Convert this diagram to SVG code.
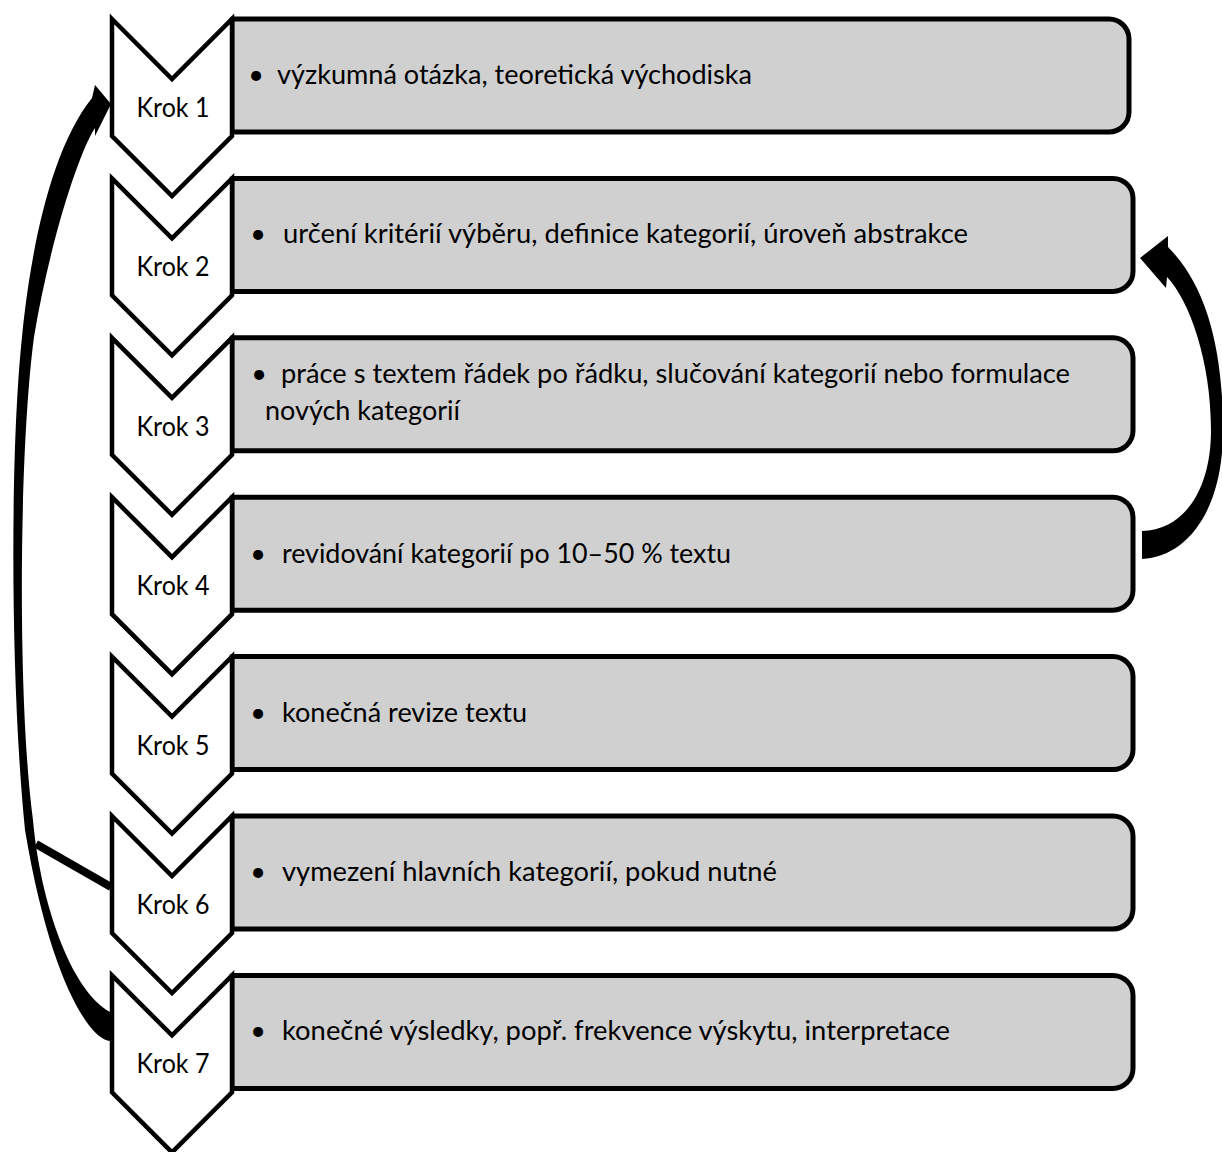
<svg xmlns="http://www.w3.org/2000/svg" width="1222" height="1152" viewBox="0 0 1222 1152">
  <style>
    .box { fill: #d0d0d0; stroke: #000; stroke-width: 5; stroke-linejoin: round; }
    .chev { fill: #fff; stroke: #000; stroke-width: 4.5; stroke-linejoin: miter; }
    .lbl { font-family: Lato, "Liberation Sans", sans-serif; font-size: 27px; fill: #000; }
    .step { text-anchor: middle; }
    .bul { text-anchor: middle; }
    .conn { fill: #000; stroke: none; }
  </style>
  <rect width="1222" height="1152" fill="#fff"/>

  <g id="connectors">
    <path class="conn" d="M110 1041 C90 1040 50 980 25 830 C10 680 10 450 22 337 C30 255 50 150 92 98 L95 85 L111 104 L95 136 L95 128 C80 150 50 240 34 337 C19 450 17 700 33 820 C40 900 70 990 110 1012 Z"/>
    <line x1="36" y1="844" x2="111" y2="887" stroke="#000" stroke-width="8"/>
    <path class="conn" d="M1142 559 C1186 557 1223 512 1223 430 C1223 350 1207 286 1168 247 L1168 236 L1140 258 L1166 288 L1167 277 C1189 300 1211 360 1211 430 C1211 490 1184 530 1142 531 Z"/>
  </g>

  <g id="step1">
    <path class="box" d="M232 19 H1109 A20 20 0 0 1 1129 39 V112 A20 20 0 0 1 1109 132 H232 Z"/>
    <path class="chev" d="M112 19 L172 79 L232 19 L232 136 L172 196 L112 136 Z"/>
    <text class="lbl step" x="173" y="117" textLength="73" lengthAdjust="spacingAndGlyphs">Krok 1</text>
    <text class="lbl bul" x="256" y="84">•</text>
    <text class="lbl" x="277" y="84" textLength="475" lengthAdjust="spacingAndGlyphs">výzkumná otázka, teoretická východiska</text>
  </g>

  <g id="step2">
    <path class="box" d="M232 178.4 H1113 A20 20 0 0 1 1133 198.4 V271.4 A20 20 0 0 1 1113 291.4 H232 Z"/>
    <path class="chev" d="M112 178.4 L172 238.4 L232 178.4 L232 295.4 L172 355.4 L112 295.4 Z"/>
    <text class="lbl step" x="173" y="276.4" textLength="73" lengthAdjust="spacingAndGlyphs">Krok 2</text>
    <text class="lbl bul" x="258" y="243.4">•</text>
    <text class="lbl" x="283" y="243.4" textLength="685" lengthAdjust="spacingAndGlyphs">určení kritérií výběru, definice kategorií, úroveň abstrakce</text>
  </g>

  <g id="step3">
    <path class="box" d="M232 337.8 H1113 A20 20 0 0 1 1133 357.8 V430.8 A20 20 0 0 1 1113 450.8 H232 Z"/>
    <path class="chev" d="M112 337.8 L172 397.8 L232 337.8 L232 454.8 L172 514.8 L112 454.8 Z"/>
    <text class="lbl step" x="173" y="435.8" textLength="73" lengthAdjust="spacingAndGlyphs">Krok 3</text>
    <text class="lbl bul" x="259" y="383">•</text>
    <text class="lbl" x="281" y="383" textLength="789" lengthAdjust="spacingAndGlyphs">práce s textem řádek po řádku, slučování kategorií nebo formulace</text>
    <text class="lbl" x="265" y="420" textLength="195" lengthAdjust="spacingAndGlyphs">nových kategorií</text>
  </g>

  <g id="step4">
    <path class="box" d="M232 497.2 H1113 A20 20 0 0 1 1133 517.2 V590.2 A20 20 0 0 1 1113 610.2 H232 Z"/>
    <path class="chev" d="M112 497.2 L172 557.2 L232 497.2 L232 614.2 L172 674.2 L112 614.2 Z"/>
    <text class="lbl step" x="173" y="595.2" textLength="73" lengthAdjust="spacingAndGlyphs">Krok 4</text>
    <text class="lbl bul" x="258" y="563">•</text>
    <text class="lbl" x="282" y="563" textLength="449" lengthAdjust="spacingAndGlyphs">revidování kategorií po 10–50 % textu</text>
  </g>

  <g id="step5">
    <path class="box" d="M232 656.6 H1113 A20 20 0 0 1 1133 676.6 V749.6 A20 20 0 0 1 1113 769.6 H232 Z"/>
    <path class="chev" d="M112 656.6 L172 716.6 L232 656.6 L232 773.6 L172 833.6 L112 773.6 Z"/>
    <text class="lbl step" x="173" y="754.6" textLength="73" lengthAdjust="spacingAndGlyphs">Krok 5</text>
    <text class="lbl bul" x="258" y="722">•</text>
    <text class="lbl" x="282" y="722" textLength="245" lengthAdjust="spacingAndGlyphs">konečná revize textu</text>
  </g>

  <g id="step6">
    <path class="box" d="M232 816 H1113 A20 20 0 0 1 1133 836 V909 A20 20 0 0 1 1113 929 H232 Z"/>
    <path class="chev" d="M112 816 L172 876 L232 816 L232 933 L172 993 L112 933 Z"/>
    <text class="lbl step" x="173" y="914" textLength="73" lengthAdjust="spacingAndGlyphs">Krok 6</text>
    <text class="lbl bul" x="258" y="881">•</text>
    <text class="lbl" x="282" y="881" textLength="495" lengthAdjust="spacingAndGlyphs">vymezení hlavních kategorií, pokud nutné</text>
  </g>

  <g id="step7">
    <path class="box" d="M232 975.4 H1113 A20 20 0 0 1 1133 995.4 V1068.4 A20 20 0 0 1 1113 1088.4 H232 Z"/>
    <path class="chev" d="M112 975.4 L172 1035.4 L232 975.4 L232 1092.4 L172 1152.4 L112 1092.4 Z"/>
    <text class="lbl step" x="173" y="1073.4" textLength="73" lengthAdjust="spacingAndGlyphs">Krok 7</text>
    <text class="lbl bul" x="258" y="1040">•</text>
    <text class="lbl" x="282" y="1040" textLength="668" lengthAdjust="spacingAndGlyphs">konečné výsledky, popř. frekvence výskytu, interpretace</text>
  </g>
</svg>
